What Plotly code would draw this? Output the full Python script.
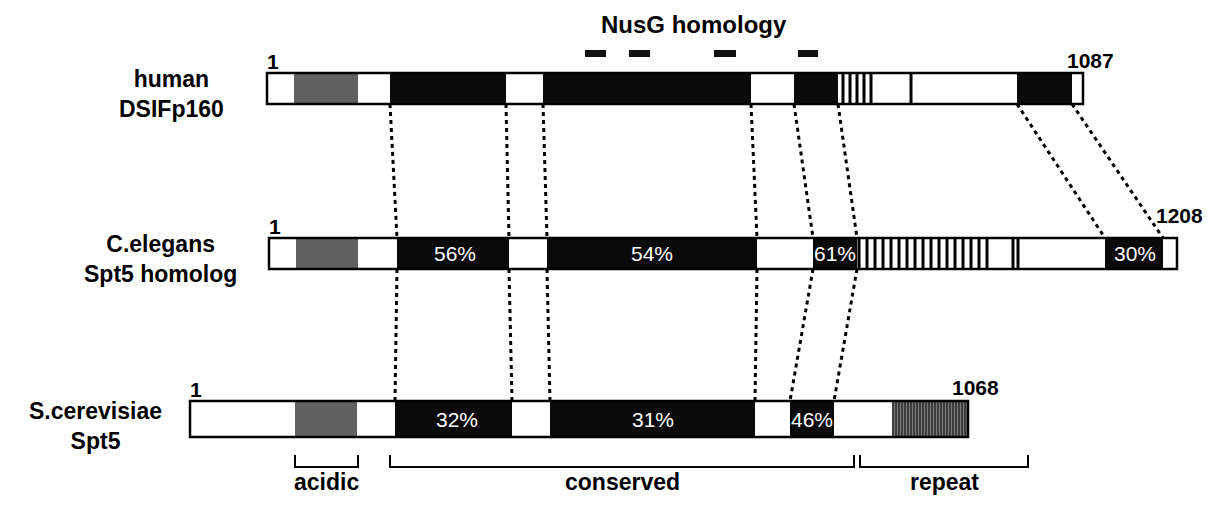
import plotly.graph_objects as go

# page body has an 8px margin, so the figure is drawn 16px smaller and the
# axes are offset so that axis units equal pixels of the original figure
W, H = 1211, 505
PAD = 8

# domain boundaries along each protein bar (figure units, left to right)
human_edges = [267, 294, 358, 390, 506, 543, 751, 794, 838, 1017, 1072, 1083]
human_fill = ["w", "g", "w", "k", "w", "k", "w", "k", "w", "k", "w"]
human_stripes = [843, 850, 857, 864, 871, 911]

celegans_edges = [269, 296, 358, 397, 509, 547, 757, 813, 857, 1105, 1163, 1177]
celegans_fill = ["w", "g", "w", "k", "w", "k", "w", "k", "w", "k", "w"]
celegans_stripes = [859, 867, 875, 883, 891, 899, 907, 915, 923, 931, 939,
                    947, 955, 963, 971, 979, 987, 1013, 1018]

scer_edges = [190, 295, 357, 395, 512, 550, 755, 790, 834, 892, 968]
scer_fill = ["w", "g", "w", "k", "w", "k", "w", "k", "w", "h"]

# vertical extent of each bar
bar_top = {"human": 73, "celegans": 238, "scer": 401}
bar_bot = {"human": 104, "celegans": 269, "scer": 437}

# identity labels
celegans_pct = ["56%", "54%", "61%", "30%"]
celegans_pct_x = [455, 652, 835, 1135]
scer_pct = ["32%", "31%", "46%"]
scer_pct_x = [457, 653, 812]

# NusG homology blocks above the human bar
nusg_x0 = [585, 629, 714, 798]
nusg_x1 = [606, 650, 736, 818]

# dotted connectors: (upper bar x, lower bar x)
conn_hc_top = [390, 506, 543, 751, 794, 838, 1017, 1072]
conn_hc_bot = [397, 509, 547, 757, 813, 857, 1105, 1163]
conn_cs_top = [397, 509, 547, 757, 813, 857]
conn_cs_bot = [395, 512, 550, 755, 790, 834]

# region brackets under yeast bar
region_names = ["acidic", "conserved", "repeat"]
region_x0 = [295, 390, 860]
region_x1 = [358, 854, 1028]

FILLS = {"w": "white", "g": "#616161", "k": "#0a0a0a", "h": "#7a7a7a"}

fig = go.Figure()
shapes = []


def add_bar(edges, fills, key):
    y0, y1 = bar_top[key], bar_bot[key]
    for a, b, f in zip(edges[:-1], edges[1:], fills):
        shapes.append(dict(type="rect", x0=a, x1=b, y0=y0, y1=y1,
                           fillcolor=FILLS[f], line=dict(width=0)))
        if f == "h":
            # fine vertical hatching
            x = a + 1
            while x < b:
                shapes.append(dict(type="line", x0=x, x1=x, y0=y0, y1=y1,
                                   line=dict(color="black", width=1)))
                x += 3
    shapes.append(dict(type="rect", x0=edges[0], x1=edges[-1], y0=y0, y1=y1,
                       line=dict(color="black", width=2.5)))


def add_stripes(xs, key):
    for x in xs:
        shapes.append(dict(type="rect", x0=x - 1.5, x1=x + 1.5,
                           y0=bar_top[key], y1=bar_bot[key],
                           fillcolor="black", line=dict(width=0)))


def add_conn(tops, bots, y0, y1):
    for a, b in zip(tops, bots):
        shapes.append(dict(type="line", x0=a, x1=b, y0=y0, y1=y1,
                           line=dict(color="black", width=3, dash="4px,4px")))


add_bar(human_edges, human_fill, "human")
add_stripes(human_stripes, "human")
add_bar(celegans_edges, celegans_fill, "celegans")
add_stripes(celegans_stripes, "celegans")
add_bar(scer_edges, scer_fill, "scer")

add_conn(conn_hc_top, conn_hc_bot, bar_bot["human"], bar_top["celegans"])
add_conn(conn_cs_top, conn_cs_bot, bar_bot["celegans"], bar_top["scer"])

for a, b in zip(nusg_x0, nusg_x1):
    shapes.append(dict(type="rect", x0=a, x1=b, y0=50, y1=57,
                       fillcolor="#111", line=dict(width=0)))

for a, b in zip(region_x0, region_x1):
    shapes.append(dict(type="path",
                       path=f"M {a},455 L {a},467 L {b},467 L {b},455",
                       line=dict(color="black", width=2)))

ann = []


def label(x, y, text, size=23, color="black", xanchor="center", b=True,
          yanchor="middle"):
    ann.append(dict(x=x, y=y, xref="x", yref="y", showarrow=False,
                    text=f"<b>{text}</b>" if b else text, xanchor=xanchor,
                    yanchor=yanchor, borderpad=0,
                    font=dict(family="Liberation Sans, Arial", size=size, color=color)))


label(694, 24, "NusG homology", size=24)
label(171, 94, "human<br>DSIFp160")
label(160, 259, "C.elegans<br>Spt5 homolog")
label(95, 426, "S.cerevisiae<br>Spt5")

label(266, 61, "1", size=21, xanchor="left")
label(268, 226, "1", size=21, xanchor="left")
label(189, 389, "1", size=21, xanchor="left")
label(1090, 60, "1087", size=21)
label(1179, 215, "1208", size=21)
label(975, 387, "1068", size=21)

for t, x in zip(celegans_pct, celegans_pct_x):
    label(x, 253, t, size=21, color="white", b=False)
for t, x in zip(scer_pct, scer_pct_x):
    label(x, 419, t, size=21, color="white", b=False)

# bracket captions sit on the bottom edge so nothing is clipped
for n, a, b in zip(region_names, region_x0, region_x1):
    label((a + b) / 2, H - PAD - 1, n, size=23, yanchor="bottom")

fig.update_layout(
    width=W - 2 * PAD, height=H - 2 * PAD,
    margin=dict(l=0, r=0, t=0, b=0),
    paper_bgcolor="white", plot_bgcolor="white",
    xaxis=dict(range=[PAD, W - PAD], visible=False, fixedrange=True),
    yaxis=dict(range=[H - PAD, PAD], visible=False, fixedrange=True),
    shapes=shapes, annotations=ann, showlegend=False,
)

fig.write_html("out.html")
